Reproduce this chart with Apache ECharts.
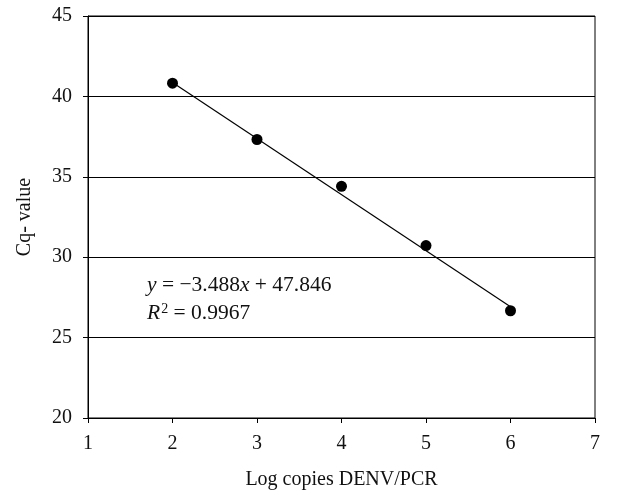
<!DOCTYPE html>
<html>
<head>
<meta charset="utf-8">
<script src="https://cdn.jsdelivr.net/npm/echarts@6/dist/echarts.min.js"></script>
<style>html,body{margin:0;padding:0;background:#fff;}#c{width:624px;height:493px;}</style>
</head>
<body>
<div id="c"></div>
<script>
// Data
const logCopies = [2, 3, 4, 5, 6];
const cqValues = [40.82, 37.32, 34.41, 30.72, 26.67];
// Trendline as stated on the chart
const slope = -3.488;
const intercept = 47.846;
const rSquared = '0.9967';
const xTicks = [1, 2, 3, 4, 5, 6, 7];
const yTicks = [20, 25, 30, 35, 40, 45];

const FONT = '"Liberation Serif", "DejaVu Serif", serif';
const trendX = [logCopies[0], logCopies[logCopies.length - 1]];
const trendData = trendX.map(x => [x, slope * x + intercept]);

const chart = echarts.init(document.getElementById('c'), null, {renderer: 'canvas'});
chart.setOption({
  animation: false,
  backgroundColor: '#fff',
  grid: {left: 88, right: 29, top: 16, bottom: 75, show: true, borderColor: '#000', borderWidth: 1,
         containLabel: false, outerBoundsMode: 'none'},
  xAxis: {
    type: 'value', min: xTicks[0], max: xTicks[xTicks.length - 1], interval: 1,
    name: 'Log copies DENV/PCR', nameLocation: 'middle', nameGap: 52,
    nameTextStyle: {fontFamily: FONT, fontSize: 20, color: '#111'},
    axisLine: {show: true, lineStyle: {color: '#000', width: 1}},
    axisTick: {show: true, length: 5, inside: false, lineStyle: {color: '#000'}},
    axisLabel: {fontFamily: FONT, fontSize: 20, color: '#111', margin: 16},
    splitLine: {show: false}
  },
  yAxis: {
    type: 'value', min: yTicks[0], max: yTicks[yTicks.length - 1], interval: 5,
    name: 'Cq- value', nameLocation: 'middle', nameGap: 53, nameRotate: 90,
    nameTextStyle: {fontFamily: FONT, fontSize: 20, color: '#111'},
    axisLine: {show: true, lineStyle: {color: '#000', width: 1}},
    axisTick: {show: true, length: 5, inside: false, lineStyle: {color: '#000'}},
    axisLabel: {fontFamily: FONT, fontSize: 20, color: '#111', margin: 16},
    splitLine: {show: true, lineStyle: {color: '#000', width: 1}}
  },
  series: [
    {
      type: 'line', data: trendData, symbol: 'none',
      lineStyle: {color: '#000', width: 1.2}, z: 2
    },
    {
      type: 'scatter', data: logCopies.map((x, i) => [x, cqValues[i]]),
      symbol: 'circle', symbolSize: 11,
      itemStyle: {color: '#000', opacity: 1}, z: 3
    }
  ],
  graphic: [
    {
      type: 'text', left: 147, top: 274,
      style: {
        text: '{i|y} = −3.488{i|x} + 47.846',
        font: '21.5px ' + FONT, fill: '#111',
        rich: {i: {fontFamily: FONT, fontSize: 21.5, fontStyle: 'italic', fill: '#111'}}
      }
    },
    {
      type: 'text', left: 147, top: 302,
      style: {
        text: '{i|R}{s|2} = ' + rSquared,
        font: '21.5px ' + FONT, fill: '#111',
        rich: {
          i: {fontFamily: FONT, fontSize: 21.5, fontStyle: 'italic', fill: '#111'},
          s: {fontFamily: FONT, fontSize: 14, fill: '#111', verticalAlign: 'top', padding: [0, 0, 9, 1]}
        }
      }
    }
  ]
});
</script>
</body>
</html>
